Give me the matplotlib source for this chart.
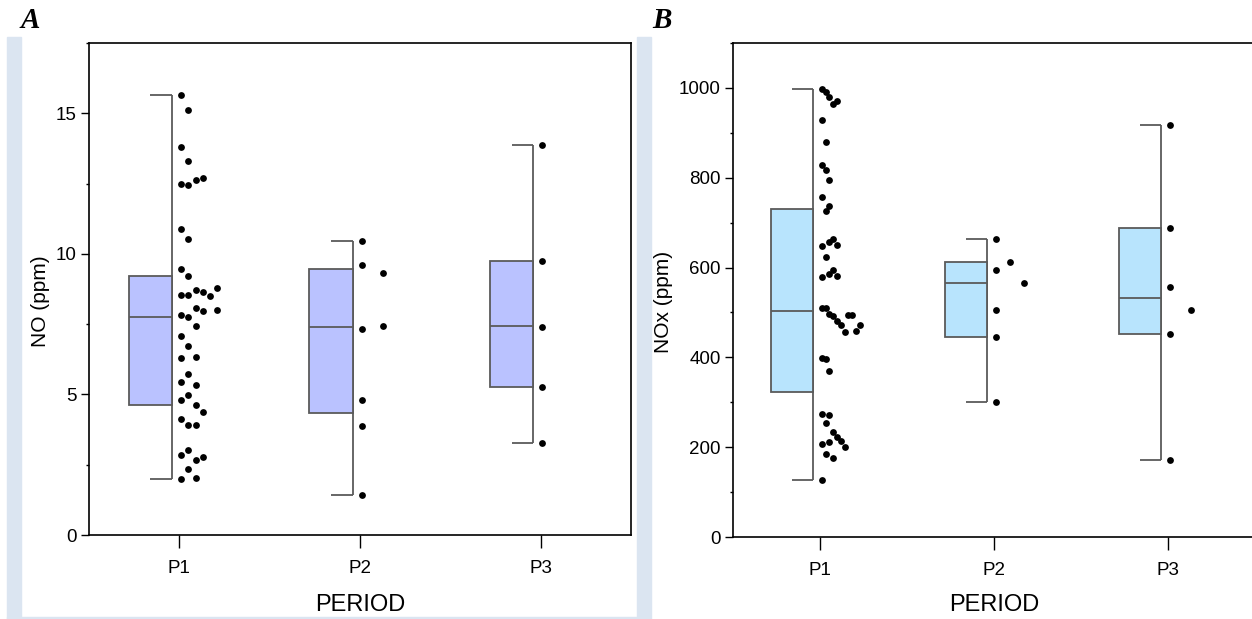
import numpy as np
import matplotlib
matplotlib.use("Agg")
import matplotlib.pyplot as plt
from matplotlib.patches import Rectangle
from matplotlib.ticker import MultipleLocator

periods = ["P1", "P2", "P3"]

# NO concentrations (ppm) per period
no_p1 = [15.65, 15.13, 13.79, 13.31, 12.50, 12.45, 12.62, 12.69, 10.87, 10.53,
         9.47, 9.23, 8.53, 8.73, 8.53, 8.66, 8.51, 8.80, 7.82, 8.07,
         7.96, 7.74, 8.00, 7.44, 7.07, 6.74, 6.29, 6.32, 5.72, 5.44,
         5.34, 4.80, 4.97, 4.61, 4.37, 4.11, 3.90, 3.92, 2.83, 3.01,
         2.65, 2.78, 2.36, 1.98, 2.04]
no_p2 = [10.46, 9.61, 9.33, 7.31, 7.44, 4.79, 3.87, 1.42]
no_p3 = [13.86, 9.74, 7.40, 5.25, 3.29]
no_q1 = [4.62, 4.35, 5.25]
no_med = [7.76, 7.39, 7.43]
no_q3 = [9.22, 9.47, 9.74]

# NOx concentrations (ppm) per period
nox_p1 = [998, 991, 980, 964, 970, 929, 879, 828, 817, 795,
          758, 726, 736, 648, 623, 656, 664, 651, 580, 586,
          594, 582, 511, 511, 497, 493, 482, 471, 457, 494,
          494, 459, 473, 398, 397, 369, 275, 254, 271, 234,
          222, 207, 211, 213, 201, 184, 175, 127]
nox_p2 = [664, 594, 612, 566, 505, 446, 300]
nox_p3 = [917, 688, 557, 506, 451, 172]
nox_q1 = [322, 446, 451]
nox_med = [504, 566, 533]
nox_q3 = [730, 612, 688]

BOX_W = 0.24
BOX_SHIFT = 0.16
EDGE = "#5a5a5a"
FRAME = "#dbe5f1"


def slot_levels(vals, gap):
    # stack points that sit close in value side by side
    placed = []
    levels = []
    for v in vals:
        k = 0
        while any(abs(v - pv) < gap and pk == k for pv, pk in placed):
            k += 1
        placed.append((v, k))
        levels.append(k)
    return np.array(levels)


def half_box(ax, groups, q1, med, q3, fill, gap):
    for i, vals in enumerate(groups):
        pos = i + 1
        right = pos - BOX_SHIFT + BOX_W / 2
        left = pos - BOX_SHIFT - BOX_W / 2
        centre = pos - BOX_SHIFT
        lo, hi = min(vals), max(vals)
        ax.vlines(right, lo, hi, color=EDGE, lw=1.3, zorder=2)
        ax.hlines([lo, hi], centre, right, color=EDGE, lw=1.3, zorder=2)
        ax.add_patch(Rectangle((left, q1[i]), BOX_W, q3[i] - q1[i],
                               facecolor=fill, edgecolor=EDGE, lw=1.3, zorder=3))
        ax.hlines(med[i], left, right, color=EDGE, lw=1.3, zorder=4)
        lv = slot_levels(vals, gap)
        step = BOX_W / (lv.max() + 1)
        ax.scatter(pos + 0.01 + lv * step, vals, s=24, color="black",
                   linewidths=0, zorder=5)


def style(ax, ylim, major, minor, ylabel):
    ax.set_xlim(0.5, 3.5)
    ax.set_ylim(*ylim)
    ax.set_xticks([1, 2, 3], periods)
    ax.yaxis.set_major_locator(MultipleLocator(major))
    ax.yaxis.set_minor_locator(MultipleLocator(minor))
    ax.tick_params(axis="x", direction="out", length=9, width=1.0, pad=9,
                   labelsize=13.5, colors="black")
    ax.tick_params(axis="y", which="major", direction="out", length=6, width=1.0,
                   pad=3, labelsize=13.5)
    ax.tick_params(axis="y", which="minor", direction="out", length=2.5, width=1.0)
    for sp in ax.spines.values():
        sp.set_linewidth(1.2)
        sp.set_color("black")
    ax.set_xlabel("PERIOD", fontsize=17)
    ax.set_ylabel(ylabel, fontsize=15)


plt.rcParams["font.family"] = ["Liberation Sans", "DejaVu Sans"]

fig = plt.figure(figsize=(12.52, 6.19), dpi=100)
W, H = 1252, 619

# light blue frame pieces around each panel
fig.patches.append(Rectangle((7 / W, 0), 14 / W, (619 - 37) / H,
                             transform=fig.transFigure, color=FRAME, zorder=0))
fig.patches.append(Rectangle((7 / W, 0), 630 / W, 2.5 / H,
                             transform=fig.transFigure, color=FRAME, zorder=0))
fig.patches.append(Rectangle((637 / W, 0), 14 / W, (619 - 37) / H,
                             transform=fig.transFigure, color=FRAME, zorder=0))

ax1 = fig.add_axes([89 / W, (619 - 535) / H, 542 / W, 492 / H])
ax2 = fig.add_axes([733 / W, (619 - 537) / H, 522 / W, 494 / H])

half_box(ax1, [no_p1, no_p2, no_p3], no_q1, no_med, no_q3, "#bac2ff", 0.6)
style(ax1, (0, 17.5), 5, 2.5, "NO (ppm)")
ax1.yaxis.set_label_coords(-0.072, 0.476)
ax1.xaxis.set_label_coords(0.5, -0.12)

half_box(ax2, [nox_p1, nox_p2, nox_p3], nox_q1, nox_med, nox_q3, "#b8e4fd", 55)
style(ax2, (0, 1100), 200, 100, "NOx (ppm)")
ax2.yaxis.set_label_coords(-0.115, 0.476)
ax2.xaxis.set_label_coords(0.5, -0.115)

fig.text(30 / W, 1 - 20 / H, "A", fontsize=21, fontweight="bold", fontstyle="italic",
         family=["Liberation Serif", "DejaVu Serif"], ha="center", va="center")
fig.text(662 / W, 1 - 20 / H, "B", fontsize=21, fontweight="bold", fontstyle="italic",
         family=["Liberation Serif", "DejaVu Serif"], ha="center", va="center")

fig.savefig("out.png", dpi=100)
